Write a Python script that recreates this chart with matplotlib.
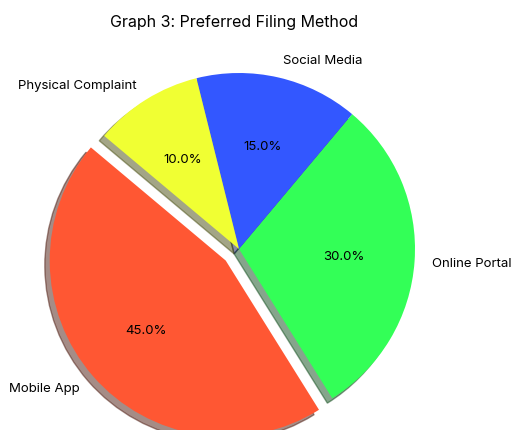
import matplotlib.pyplot as plt

plt.rcParams['font.family'] = ['Inter', 'DejaVu Sans']

labels = ["Mobile App", "Online Portal", "Social Media", "Physical Complaint"]
shares = [45, 30, 15, 10]
colors = ["#FF5733", "#33FF57", "#3357FF", "#F0FF33"]
explode = [0.1, 0, 0, 0]

W, H = 518, 431
fig = plt.figure(figsize=(W / 100, H / 100), dpi=100)

# pie centre and radius in pixels
cx, cy, r = 239, 250, 176
a = 1.3
ax = fig.add_axes([(cx - a * r) / W, (H - cy - a * r) / H, 2 * a * r / W, 2 * a * r / H])
ax.pie(shares, labels=labels, colors=colors, explode=explode, autopct="%1.1f%%",
       shadow=True, startangle=140, textprops={"fontsize": 9.5})
ax.set_xlim(-a, a)
ax.set_ylim(-a, a)
ax.set_aspect("equal")

fig.text(234 / W, 1 - 22 / H, "Graph 3: Preferred Filing Method", ha="center", va="center", fontsize=11.5)

fig.savefig("out.png", dpi=100)
